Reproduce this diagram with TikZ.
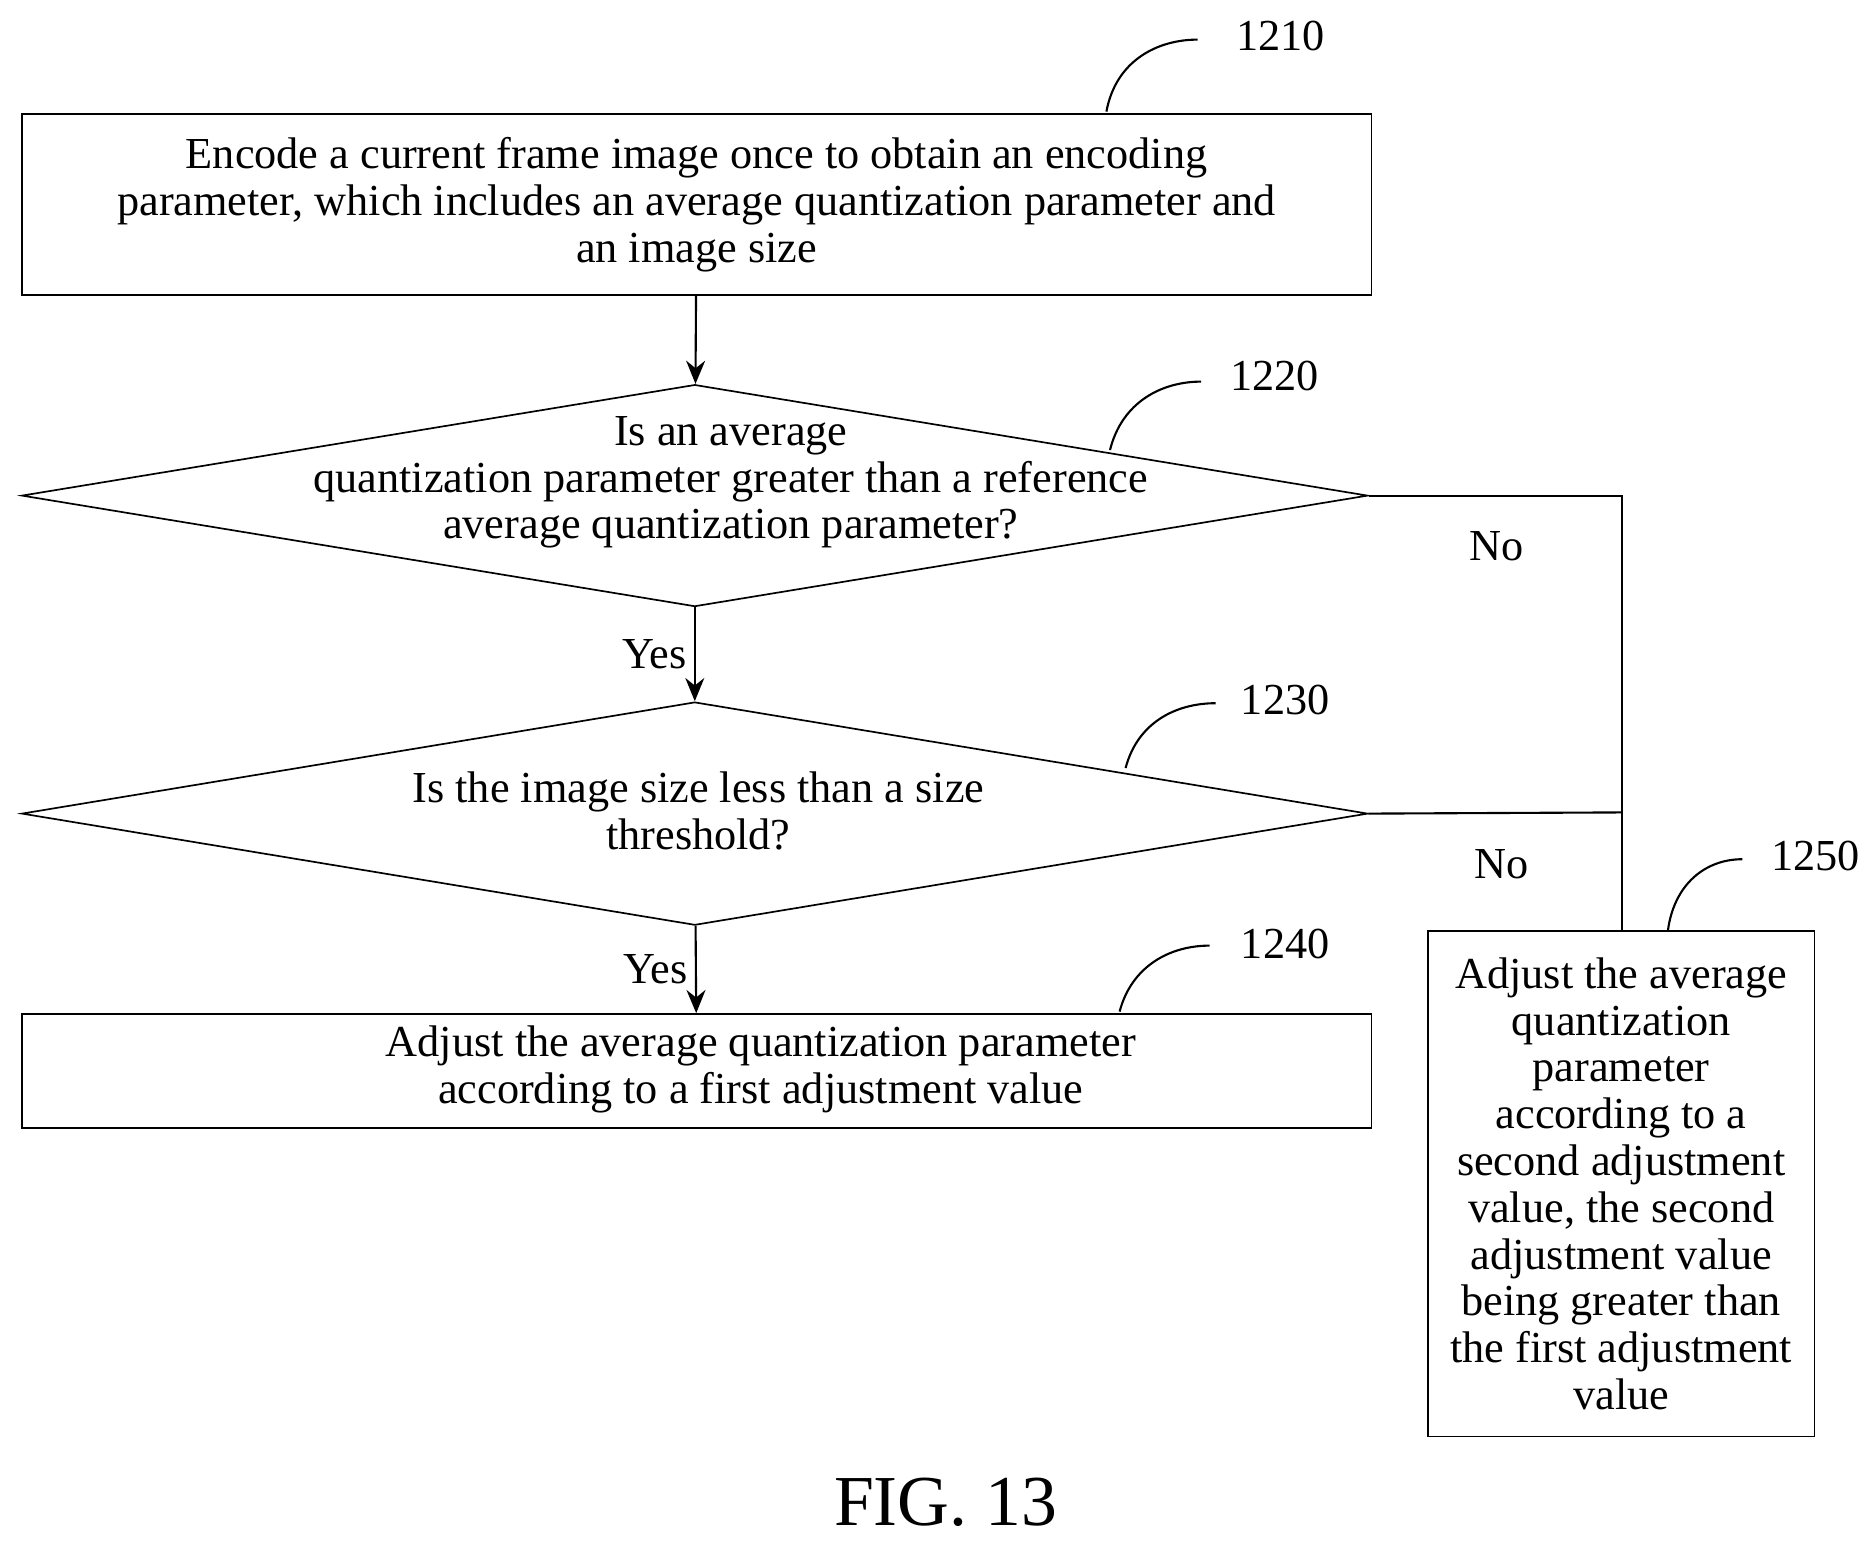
\documentclass[tikz,border=0pt]{standalone}
\usepackage{fontspec}
\setmainfont{Liberation Serif}
\usetikzlibrary{positioning}
\usetikzlibrary{shapes.geometric, arrows}
\tikzstyle{process} = [rectangle, draw=black, thick, inner sep=0pt]
\tikzstyle{decision} = [diamond, draw=black, thick, inner sep=0pt]
\tikzstyle{txt} = [align=center, font=\fontsize{21}{22.2}\selectfont]
\tikzstyle{flow} = [line width=1pt,-{Stealth[length=11pt,width=9pt]}]
\tikzstyle{line} = [line width=1pt]
\tikzstyle{callout} = [line width=1pt]
\usetikzlibrary{arrows.meta}

\begin{document}
\begin{tikzpicture}[x=0.02cm,y=-0.02cm]
	\useasboundingbox (0,0) rectangle (1560,1286);
	\node (enc)[process, minimum width=22.5cm, minimum height=3.02cm] at (580.5,170.5) {};
	\node[txt] at (enc) {Encode a current frame image once to obtain an encoding\\parameter, which includes an average quantization parameter and\\an image size};
	\node (qp)[decision, minimum width=22.44cm, minimum height=3.7cm] at (579,413) {};
	\node[txt] at (609,402) {Is an average\\quantization parameter greater than a reference\\average quantization parameter?};
	\node (size)[decision, minimum width=22.44cm, minimum height=3.72cm] at (579,678) {};
	\node[txt] at (582,676) {Is the image size less than a size\\threshold?};
	\node (first)[process, minimum width=22.5cm, minimum height=1.9cm] at (580.5,892.5) {};
	\node[txt] at (634,891) {Adjust the average quantization parameter\\according to a first adjustment value};
	\node (second)[process, minimum width=6.44cm, minimum height=8.42cm] at (1351,986.5) {};
	\node[txt] at (second) {Adjust the average\\quantization\\parameter\\according to a\\second adjustment\\value, the second\\adjustment value\\being greater than\\the first adjustment\\value};
	\coordinate (join) at (1352,677);
	\draw [flow] (enc) -- (qp);
	\draw [flow] (qp) -- node [txt, left] {Yes} (size);
	\draw [flow] (size) -- node [txt, left] {Yes} (first);
	\draw [line] (qp.east) -| (second.north -| join);
	\draw [line] (size.east) -- (join);
	\node[txt] at (1247,455) {No};
	\node[txt] at (1251,720) {No};
	% reference numerals
	\node (n1210)[txt] at (1067,30) {1210};
	\node (n1220)[txt] at (1062,313) {1220};
	\node (n1230)[txt] at (1071,583) {1230};
	\node (n1240)[txt] at (1071,787) {1240};
	\node (n1250)[txt] at (1513,713) {1250};
	\draw [callout] (922,93) .. controls (930,50) and (965,33) .. (998,33);
	\draw [callout] (925,375) .. controls (935,335) and (968,318) .. (1001,318);
	\draw [callout] (938,640) .. controls (948,602) and (980,586) .. (1013,586);
	\draw [callout] (933,843) .. controls (943,805) and (975,788) .. (1008,788);
	\draw [callout] (1390,775) .. controls (1395,738) and (1420,716) .. (1452,716);
	\node (fig)[font=\fontsize{34}{38}\selectfont] at (788,1252) {FIG. 13};
\end{tikzpicture}
\end{document}
